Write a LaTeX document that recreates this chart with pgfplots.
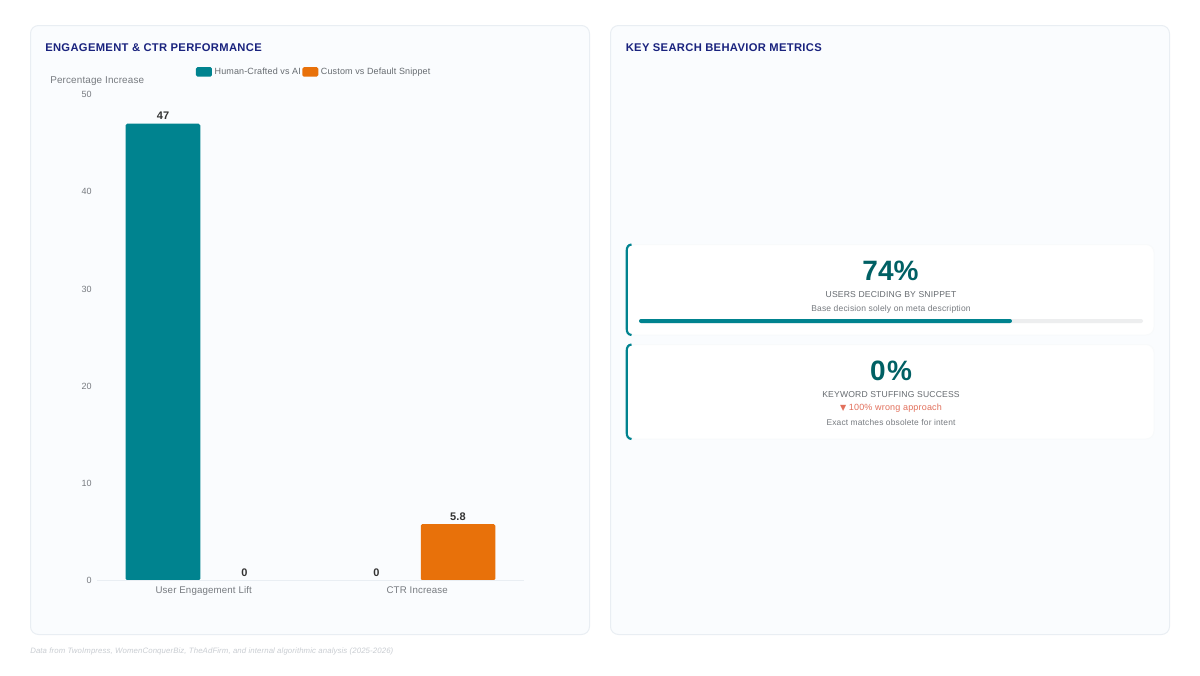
\documentclass[border=0pt]{standalone}
\usepackage{fontspec}
\setmainfont{Liberation Sans}
\usepackage{pgfplots}
\pgfplotsset{compat=1.18}
\definecolor{teal1}{HTML}{00838F}
\definecolor{teal2}{HTML}{006064}
\definecolor{orange1}{HTML}{E8710A}
\definecolor{navy}{HTML}{1A237E}
\definecolor{panel}{HTML}{FAFCFE}
\definecolor{edge}{HTML}{E9EEF3}
\definecolor{gtxt}{HTML}{666B70}
\definecolor{ltxt}{HTML}{777B80}
\definecolor{dtxt}{HTML}{333333}
\definecolor{foot}{HTML}{C9CDD2}
\definecolor{redt}{HTML}{E2705C}
\definecolor{track}{HTML}{EDEEEF}
\newcommand{\pxf}[1]{\fontsize{\dimexpr#1pt*3/4\relax}{\dimexpr#1pt\relax}\selectfont}
\begin{document}
\begin{tikzpicture}
\begin{scope}[x=0.75pt,y=-0.75pt]
\path[fill=white] (0,0) rectangle (1200,675);
\draw[edge,fill=panel,line width=0.75pt,rounded corners=6pt] (30.5,25.5) rectangle (589.5,634.5);
\draw[edge,fill=panel,line width=0.75pt,rounded corners=6pt] (610.5,25.5) rectangle (1169.5,634.5);
\node[anchor=west,inner sep=0,text=navy] at (45,47.7) {\pxf{11.2}\addfontfeature{LetterSpace=3}\bfseries ENGAGEMENT \& CTR PERFORMANCE};
\node[anchor=west,inner sep=0,text=navy] at (625.5,47.7) {\pxf{11.2}\addfontfeature{LetterSpace=3}\bfseries KEY SEARCH BEHAVIOR METRICS};
\node[anchor=west,inner sep=0,text=ltxt] at (50,81) {\pxf{9.9}\addfontfeature{LetterSpace=1.5}Percentage Increase};
\draw[edge!30,fill=white,line width=0.75pt,rounded corners=6pt] (626.5,244.5) rectangle (1154,335);
\draw[edge!30,fill=white,line width=0.75pt,rounded corners=6pt] (626.5,344.5) rectangle (1154,439);
\draw[teal1,line width=1.6pt] (631.5,244.5) .. controls (628.2,244.8) and (626.7,247) .. (626.7,251) -- (626.7,328.5) .. controls (626.7,332.5) and (628.2,334.7) .. (631.5,335);
\draw[teal1,line width=1.6pt] (631.5,344.5) .. controls (628.2,344.8) and (626.7,347) .. (626.7,351) -- (626.7,432.5) .. controls (626.7,436.5) and (628.2,438.7) .. (631.5,439);
\node[inner sep=0,text=teal2] at (890.5,271) {\pxf{28}\bfseries 74\%};
\node[inner sep=0,text=gtxt] at (891,295) {\pxf{8.6}\addfontfeature{LetterSpace=2}USERS DECIDING BY SNIPPET};
\node[inner sep=0,text=ltxt] at (891,309) {\pxf{8.5}\addfontfeature{LetterSpace=2}Base decision solely on meta description};
\node[inner sep=0,text=teal2] at (891,371) {\pxf{28}\addfontfeature{LetterSpace=5}\bfseries 0\%};
\node[inner sep=0,text=gtxt] at (891,395) {\pxf{8.6}\addfontfeature{LetterSpace=2}KEYWORD STUFFING SUCCESS};
\node[inner sep=0,text=redt] at (891,408) {\pxf{9}\addfontfeature{LetterSpace=2}{\fontspec{DejaVu Sans}\pxf{8}▼} 100\% wrong approach};
\node[inner sep=0,text=ltxt] at (891,422) {\pxf{8.4}\addfontfeature{LetterSpace=2}Exact matches obsolete for intent};
\node[anchor=west,inner sep=0,text=foot] at (30,651) {\pxf{7.8}\itshape\addfontfeature{LetterSpace=1.5}Data from TwoImpress, WomenConquerBiz, TheAdFirm, and internal algorithmic analysis (2025-2026)};
\end{scope}
% progress bar
\begin{axis}[at={(639*0.75pt,-323*0.75pt)},anchor=south west,scale only axis,width=504*0.75pt,height=4*0.75pt,
  hide axis,xmin=0,xmax=100,ymin=0,ymax=1,clip=false]
\addplot[draw=none,fill=track,rounded corners=1.5pt,xbar,bar width=3pt,bar shift=0pt] coordinates {(100,0.5)};
\addplot[draw=none,fill=teal1,rounded corners=1.5pt,xbar,bar width=3pt,bar shift=0pt] coordinates {(74,0.5)};
\end{axis}
% main chart
\begin{axis}[at={(97*0.75pt,-580.5*0.75pt)},anchor=south west,scale only axis,
  width=427*0.75pt,height=486*0.75pt,
  ymin=0,ymax=50,xmin=-0.5,xmax=1.5,
  ybar,bar width=55.9pt,
  axis on top,
  xtick={0,1},xticklabels={User Engagement Lift,CTR Increase},
  axis y line=none,
  axis x line=bottom,
  axis line style={edge,line width=0.75pt,-},
  major tick length=0pt,
  x tick label style={font=\pxf{9.7}\addfontfeature{LetterSpace=1.5},text=ltxt,yshift=-1.7pt,inner sep=1pt,text height=7pt,text depth=2pt},
  nodes near coords,
  every node near coord/.append style={font=\pxf{11}\bfseries\addfontfeature{LetterSpace=1.5},text=dtxt,yshift=-0.7pt},
  /pgf/number format/assume math mode=true,
  clip=false,
  legend style={draw=none,fill=none,at={(0.2318,1.0465)},anchor=west,inner sep=0pt,outer sep=0pt,
     font=\pxf{9}\addfontfeature{LetterSpace=1.5},text=gtxt,
     /tikz/every even column/.append style={column sep=-0.9pt}},
  legend columns=2,
  legend cell align=left,
  legend image code/.code={\fill[#1,rounded corners=1.2pt] (0cm,-3.6pt) rectangle (12pt,3.6pt);},
]
\addplot[draw=none,fill=teal1,rounded corners=1.2pt,bar shift=-30.575pt] coordinates {(0,47)};
\addlegendentry{Human-Crafted vs AI}
\addplot[draw=none,fill=none,bar shift=-30.575pt,forget plot] coordinates {(1,0)};
\addplot[draw=none,fill=orange1,rounded corners=1.2pt,bar shift=30.575pt] coordinates {(1,5.8)};
\addlegendentry{Custom vs Default Snippet}
\addplot[draw=none,fill=none,bar shift=30.575pt,forget plot] coordinates {(0,0)};
\end{axis}
% y tick labels
\begin{axis}[at={(97*0.75pt,-580.5*0.75pt)},anchor=south west,scale only axis,
  width=427*0.75pt,height=486*0.75pt,
  ymin=0,ymax=50,xmin=0,xmax=1,
  axis x line=none,axis y line=left,
  axis line style={draw=none},
  ytick={0,10,20,30,40,50},major tick length=0pt,
  /pgf/number format/assume math mode=true,
  y tick label style={font=\pxf{9},text=ltxt,inner sep=0pt,xshift=-5*0.75pt}]
\end{axis}
\end{tikzpicture}
\end{document}
